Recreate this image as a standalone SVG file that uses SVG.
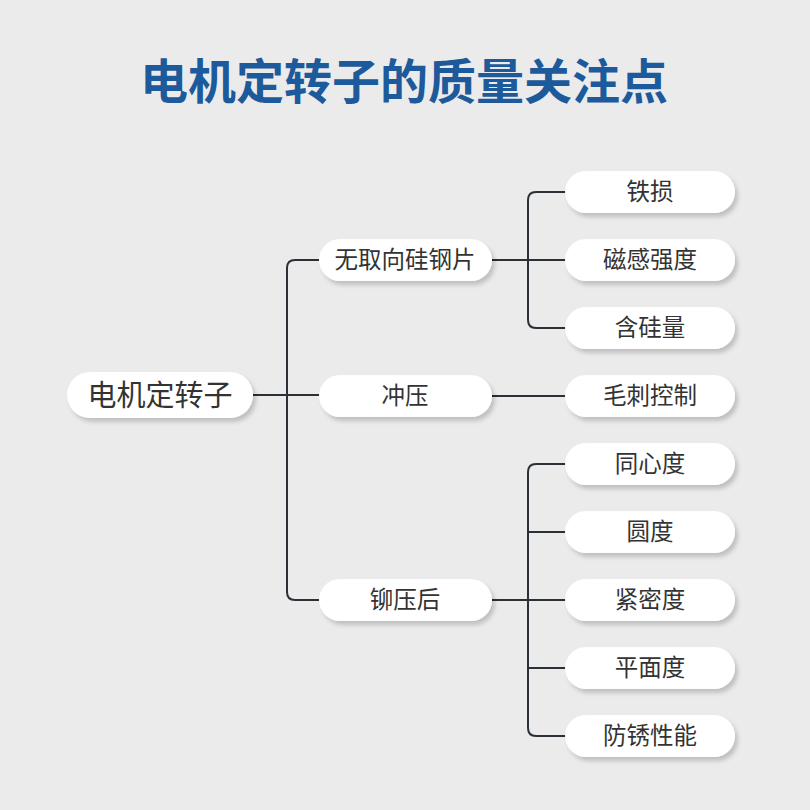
<svg xmlns="http://www.w3.org/2000/svg" width="810" height="810" viewBox="0 0 810 810">
<defs>
<filter id="sh" x="-20%" y="-30%" width="140%" height="170%">
<feDropShadow dx="3" dy="4" stdDeviation="2" flood-color="#000" flood-opacity="0.18"/>
</filter>
<style>
.n{fill:#fff;filter:url(#sh)}
.t{font-family:"Noto Sans CJK SC","Noto Sans",sans-serif;fill:#333;text-anchor:middle;dominant-baseline:central}
.c{fill:none;stroke:#2b2f36;stroke-width:2}
</style>
</defs>
<rect width="810" height="810" fill="#ebebeb"/>
<text x="404" y="78" font-family="'Noto Sans CJK SC',sans-serif" font-weight="bold" font-size="48" fill="#1d5a9c" text-anchor="middle" dominant-baseline="central">电机定转子的质量关注点</text>
<g id="connectors">
<path class="c" d="M253 395 H320"/>
<path class="c" d="M320 260 H295 Q287 260 287 268 V592 Q287 600 295 600 H320"/>
<path class="c" d="M492 260 H566"/>
<path class="c" d="M566 192 H536 Q528 192 528 200 V320 Q528 328 536 328 H566"/>
<path class="c" d="M492 396 H566"/>
<path class="c" d="M492 600 H566"/>
<path class="c" d="M566 464 H536 Q528 464 528 472 V728 Q528 736 536 736 H566"/>
<path class="c" d="M528 532 H566 M528 668 H566"/>
</g>
<g id="root"><rect class="n" x="67" y="372" width="186" height="46" rx="23"/><text class="t" x="160" y="393" font-size="29">电机定转子</text></g>
<g id="m1"><rect class="n" x="319" y="239" width="173" height="42" rx="21"/><text class="t" x="405" y="258" font-size="23.5">无取向硅钢片</text></g>
<g id="m2"><rect class="n" x="319" y="375" width="173" height="42" rx="21"/><text class="t" x="405" y="394" font-size="23.5">冲压</text></g>
<g id="m3"><rect class="n" x="319" y="579" width="173" height="42" rx="21"/><text class="t" x="405" y="598" font-size="23.5">铆压后</text></g>
<g id="l1"><rect class="n" x="565" y="171" width="170" height="42" rx="21"/><text class="t" x="650" y="190" font-size="23.5">铁损</text></g>
<g id="l2"><rect class="n" x="565" y="239" width="170" height="42" rx="21"/><text class="t" x="650" y="258" font-size="23.5">磁感强度</text></g>
<g id="l3"><rect class="n" x="565" y="307" width="170" height="42" rx="21"/><text class="t" x="650" y="326" font-size="23.5">含硅量</text></g>
<g id="l4"><rect class="n" x="565" y="375" width="170" height="42" rx="21"/><text class="t" x="650" y="394" font-size="23.5">毛刺控制</text></g>
<g id="l5"><rect class="n" x="565" y="443" width="170" height="42" rx="21"/><text class="t" x="650" y="462" font-size="23.5">同心度</text></g>
<g id="l6"><rect class="n" x="565" y="511" width="170" height="42" rx="21"/><text class="t" x="650" y="530" font-size="23.5">圆度</text></g>
<g id="l7"><rect class="n" x="565" y="579" width="170" height="42" rx="21"/><text class="t" x="650" y="598" font-size="23.5">紧密度</text></g>
<g id="l8"><rect class="n" x="565" y="647" width="170" height="42" rx="21"/><text class="t" x="650" y="666" font-size="23.5">平面度</text></g>
<g id="l9"><rect class="n" x="565" y="715" width="170" height="42" rx="21"/><text class="t" x="650" y="734" font-size="23.5">防锈性能</text></g>
</svg>
